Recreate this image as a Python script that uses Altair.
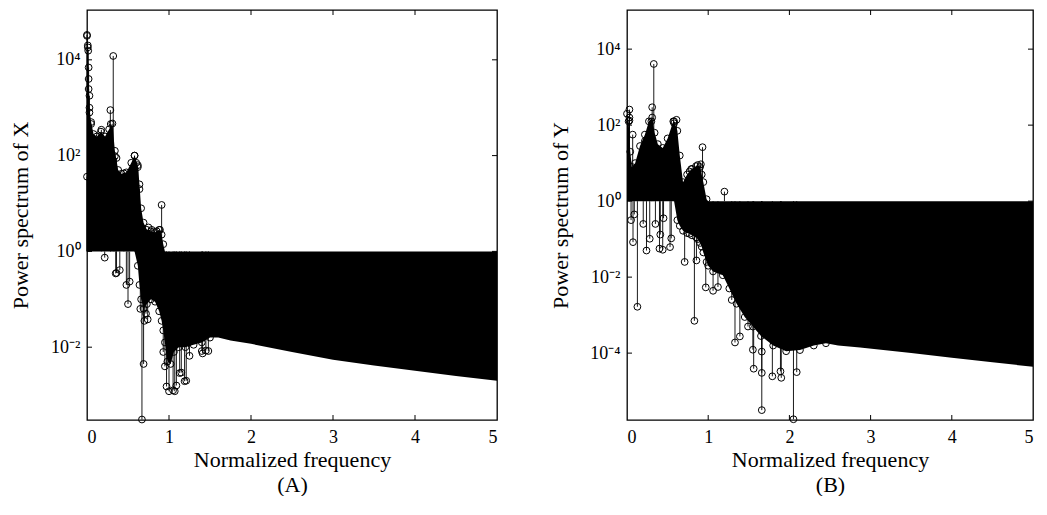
import altair as alt
import pandas as pd

FONT = "Liberation Serif"

# ---------------- Panel A (power spectrum of X) ----------------
# dense stem region envelope, values as log10 of power
a_env_x = [0.0, 0.01, 0.02, 0.03, 0.05, 0.08, 0.12, 0.17, 0.22, 0.27, 0.31, 0.34, 0.38, 0.42,
           0.48, 0.54, 0.58, 0.62, 0.64, 0.66, 0.69, 0.73, 0.78, 0.83, 0.88, 0.91, 0.93, 0.95,
           0.98, 1.02, 1.06, 1.12, 1.2, 1.3, 1.4, 1.5, 1.6, 1.75, 2.0, 2.5, 3.0, 3.5, 4.0, 4.5, 5.0]
a_env_top = [4.5, 4.3, 3.6, 3.0, 2.7, 2.45, 2.4, 2.5, 2.4, 2.55, 2.67, 2.1, 1.7, 1.62,
             1.65, 1.85, 2.0, 1.8, 1.4, 0.9, 0.6, 0.45, 0.42, 0.4, 0.45, 0.35, 0.15, 0.0,
             0, 0, 0, 0, 0, 0, 0, 0, 0, 0, 0, 0, 0, 0, 0, 0, 0]
a_env_bot = [0, 0, 0, 0, 0, 0, 0, 0, 0, 0, 0, 0, 0, 0, 0, 0, 0,
             -0.3, -0.7, -1.0, -1.2, -1.1, -1.0, -1.05, -1.25, -1.45, -1.65, -1.9,
             -2.3, -2.35, -2.1, -2.0, -2.0, -1.95, -1.9, -1.8, -1.8, -1.86, -1.93,
             -2.1, -2.26, -2.38, -2.49, -2.6, -2.7]
# isolated stems with visible circle heads
a_stem_x = [0.0, 0.01, 0.015, 0.02, 0.02, 0.03, 0.03, 0.05, 0.0, 0.175, 0.285, 0.32, 0.29,
            0.34, 0.36, 0.45, 0.5, 0.58, 0.6, 0.62, 0.64, 0.79, 0.89, 0.91, 0.75, 0.85,
            0.216, 0.35, 0.40, 0.48, 0.50, 0.52, 0.36, 0.67, 0.69, 0.74, 0.93, 0.95, 0.97,
            1.0, 1.05, 1.07, 1.09, 1.13, 1.15, 1.19, 1.21, 1.25, 1.4, 1.45, 1.48, 1.41,
            0.7, 0.72, 0.65]
a_stem_y = [4.52, 4.26, 4.19, 3.84, 3.39, 3.25, 2.9, 2.66, 1.56, 2.54, 2.95, 4.08, 2.66,
            1.99, 1.95, 1.63, 1.56, 2.0, 1.85, 1.76, 1.3, 0.45, 0.45, 0.97, 0.5, 0.42,
            -0.13, -0.46, -0.39, -0.70, -1.1, -0.63, -0.45, -3.51, -2.35, -1.42, -2.1, -2.4,
            -2.82, -2.92, -2.9, -2.92, -2.8, -2.54, -2.53, -2.71, -2.7, -2.18, -2.08, -2.07,
            -2.08, -2.13, -1.45, -1.3, -1.2]

# ---------------- Panel B (power spectrum of Y) ----------------
b_env_x = [0.0, 0.02, 0.04, 0.06, 0.1, 0.16, 0.22, 0.27, 0.31, 0.34, 0.38, 0.44, 0.5, 0.57,
           0.58, 0.62, 0.65, 0.69, 0.74, 0.77, 0.8, 0.85, 0.87, 0.9, 0.92, 0.94, 0.98, 1.0,
           1.06, 1.18, 1.26, 1.35, 1.45, 1.55, 1.65, 1.8, 1.96, 2.13, 2.3, 2.45, 2.6, 2.87,
           3.5, 4.0, 4.5, 5.0]
b_env_top = [2.3, 2.1, 1.3, 0.9, 1.0, 1.45, 1.75, 2.1, 2.2, 1.8, 1.5, 1.4, 1.65, 2.1,
             2.1, 1.85, 1.2, 0.5, 0.7, 0.78, 0.85, 0.92, 0.95, 0.9, 0.7, 0.5, 0.05, 0.0,
             0, 0, 0, 0, 0, 0, 0, 0, 0, 0, 0, 0, 0, 0, 0, 0, 0, 0]
b_env_bot = [0, 0, 0, 0, 0, 0, 0, 0, 0, 0, 0, 0, 0, 0, 0,
             -0.5, -0.65, -0.78, -0.84, -0.86, -0.9, -0.95, -1.0, -1.1, -1.2, -1.35, -1.6,
             -1.7, -1.85, -1.95, -2.3, -2.7, -3.05, -3.3, -3.55, -3.8, -3.95, -3.92, -3.8,
             -3.74, -3.8, -3.85, -4.0, -4.12, -4.24, -4.36]
b_stem_x = [0.33, 0.31, 0.03, 0.03, 0.03, 0.61, 0.58, 0.93, 1.2, 0.79, 0.91, 0.07, 0.30, 0.22,
            0.128, 0.074, 0.24, 0.28, 0.40, 0.44, 0.41, 0.53, 0.545, 0.71, 0.83, 0.855, 0.97,
            1.06, 1.12, 1.29, 1.33, 1.39, 1.49, 1.56, 1.66, 1.66, 1.79, 1.89, 1.90, 2.05, 2.09,
            1.55, 1.66, 0.05, 0.09, 0.2, 0.35, 0.45]
b_stem_y = [3.61, 2.47, 2.41, 2.12, 2.2, 2.14, 2.05, 1.42, 0.25, 0.84, 0.97, 1.75, 2.1, 1.58,
            -2.78, -1.08, -1.3, -0.99, -1.25, -1.28, -0.88, -1.21, -0.98, -1.6, -3.15, -1.56,
            -2.27, -2.36, -2.26, -2.6, -3.72, -3.56, -3.3, -4.41, -5.5, -4.52, -4.61, -4.48,
            -4.65, -5.74, -4.5, -3.91, -3.96, -0.5, -0.35, -0.6, -0.6, -0.45]

x_tick_vals = [0, 1, 2, 3, 4, 5]
label_expr = ("datum.value >= 5000 ? '10⁴' : datum.value >= 50 ? '10²' : "
              "datum.value >= 0.5 ? '10⁰' : datum.value >= 0.005 ? '10⁻²' : '10⁻⁴'")


def panel(env_x, env_top, env_bot, stem_x, stem_y, lo, hi, ytick_exp, ytitle, sub,
          width, height, circ_ranges):
    env = pd.DataFrame({"f": env_x,
                        "top": [10 ** v for v in env_top],
                        "bot": [10 ** v for v in env_bot]})
    stems = pd.DataFrame({"f": stem_x, "p": [10 ** v for v in stem_y], "base": 1.0})
    # circles on the ragged edge of the dense region
    edge_rows = []
    for x, t, b in zip(env_x, env_top, env_bot):
        if x <= circ_ranges[0] and t != 0:
            edge_rows.append({"f": x, "p": 10 ** t})
        if circ_ranges[1] <= x <= circ_ranges[2] and b != 0:
            edge_rows.append({"f": x, "p": 10 ** b})
    circ = pd.concat([stems[["f", "p"]], pd.DataFrame(edge_rows)], ignore_index=True)

    yvals = [10 ** e for e in ytick_exp]
    xs = alt.Scale(domain=[0, 5], nice=False, zero=False)
    ys = alt.Scale(type="log", domain=[10 ** lo, 10 ** hi], nice=False)

    xaxis = alt.Axis(values=x_tick_vals, format="d", ticks=False, domain=False, grid=False,
                     labelFont=FONT, labelFontSize=18, labelPadding=8, labelColor="black",
                     title=["Normalized frequency", sub], titleFont=FONT, titleFontSize=22,
                     titleFontWeight="normal", titleLineHeight=25, titlePadding=3,
                     titleColor="black")
    yaxis = alt.Axis(values=yvals, labelExpr=label_expr, ticks=False, domain=False, grid=False,
                     labelFont=FONT, labelFontSize=18, labelPadding=7, labelColor="black",
                     title=ytitle, titleFont=FONT, titleFontSize=22, titleFontWeight="normal",
                     titleColor="black", titleX=-67, titleY=height / 2,
                     titleBaseline="middle")

    X = lambda fld: alt.X(fld, scale=xs, axis=xaxis)
    Y = lambda fld: alt.Y(fld, scale=ys, axis=yaxis)

    area = alt.Chart(env).mark_area(color="black", opacity=1, interpolate="linear").encode(
        x=X("f:Q"), y=Y("top:Q"), y2="bot:Q",
    )
    rules = alt.Chart(stems).mark_rule(color="black", strokeWidth=0.9).encode(
        x=X("f:Q"), y=Y("p:Q"), y2="base:Q",
    )
    pts = alt.Chart(circ).mark_point(shape="circle", filled=False, color="black", size=46,
                                     strokeWidth=1, opacity=1).encode(
        x=X("f:Q"), y=Y("p:Q"),
    )
    xt = pd.DataFrame({"t": [1, 2, 3, 4]})
    yt = pd.DataFrame({"v": yvals})
    xt_b = alt.Chart(xt).mark_rule(color="black", strokeWidth=1).encode(
        x=X("t:Q"), y=alt.value(height), y2=alt.value(height - 5))
    xt_t = alt.Chart(xt).mark_rule(color="black", strokeWidth=1).encode(
        x=X("t:Q"), y=alt.value(0), y2=alt.value(5))
    yt_l = alt.Chart(yt).mark_rule(color="black", strokeWidth=1).encode(
        y=Y("v:Q"), x=alt.value(0), x2=alt.value(5))
    yt_r = alt.Chart(yt).mark_rule(color="black", strokeWidth=1).encode(
        y=Y("v:Q"), x=alt.value(width), x2=alt.value(width - 5))

    return alt.layer(area, rules, pts, xt_b, xt_t, yt_l, yt_r).properties(
        width=width, height=height)


pa = panel(a_env_x, a_env_top, a_env_bot, a_stem_x, a_stem_y, -3.52, 5.04,
           [-2, 0, 2, 4], "Power spectrum of X", "(A)", 410, 410, (0.95, 0.6, 1.5))
pb = panel(b_env_x, b_env_top, b_env_bot, b_stem_x, b_stem_y, -5.76, 5.03,
           [-4, -2, 0, 2, 4], "Power spectrum of Y", "(B)", 406, 410, (1.0, 0.58, 2.45))

chart = alt.hconcat(pa, pb, spacing=49).resolve_scale(
    x="independent", y="independent").properties(padding=0).configure_view(
    stroke="black", strokeWidth=1.3)

chart.save("out.html", embed_options={"renderer": "svg", "actions": False})
